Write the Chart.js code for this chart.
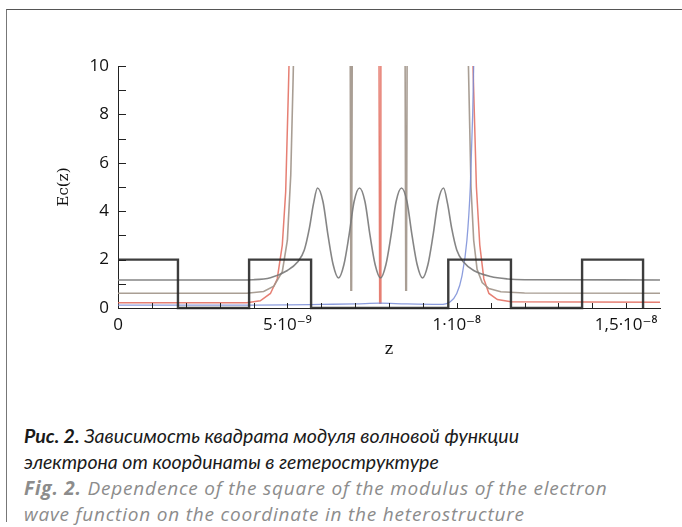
<!DOCTYPE html>
<html>
<head>
<meta charset="utf-8">
<script src="https://cdn.jsdelivr.net/npm/chart.js@4.4.1/dist/chart.umd.min.js"></script>
<style>
  html, body { margin: 0; padding: 0; background: #fff; }
  body { width: 682px; height: 527px; position: relative; overflow: hidden; }
  #frame { position: absolute; left: 6px; top: 9px; right: -2px; height: 512px;
           border-top: 1.5px solid #555; border-left: 1.5px solid #777; }
  #wrap { position: absolute; left: 0; top: 0; width: 682px; height: 370px; }
  #caption { position: absolute; left: 24px; top: 423px; width: 655px;
             font-style: italic; line-height: 26px; white-space: nowrap; }
  #caption .ru { color: #1a1a1a; font-family: Lato, "Open Sans", sans-serif; font-size: 19.5px; }
  #caption .en { color: #8c8c8c; font-family: "Open Sans", Lato, sans-serif; font-size: 19px; letter-spacing: 0.8px; }
  #caption b { font-weight: 700; }
</style>
</head>
<body>
<div id="frame"></div>
<div id="wrap"><canvas id="chart"></canvas></div>
<div id="caption">
  <div class="ru"><b>Рис. 2.</b> Зависимость квадрата модуля волновой функции<br>электрона от координаты в гетероструктуре</div>
  <div class="en"><b>Fig. 2.</b> Dependence of the square of the modulus of the electron<br>wave function on the coordinate in the heterostructure</div>
</div>
<script>
// z in nanometres (1e-9 m); tick labels show the metre values
const xTickLabels = { 0: '0', 5: '5·10⁻⁹', 10: '1·10⁻⁸', 15: '1,5·10⁻⁸' };
const xMinorTicks = [1, 2, 3, 4, 5, 6, 7, 8, 9, 10, 11, 12, 13, 14, 15];
const yTickLabels = { 0: '0', 2: '2', 4: '4', 6: '6', 8: '8', 10: '10' };
const yMinorTicks = [1, 2, 3, 4, 5, 6, 7, 8, 9, 10];

// conduction band profile Ec(z)
const potZ = [0, 1.77, 1.77, 3.87, 3.87, 5.70, 5.70, 9.75, 9.75, 11.60, 11.60, 13.70, 13.70, 15.50, 15.50];
const potV = [2, 2, 0, 0, 2, 2, 0, 0, 2, 2, 0, 0, 2, 2, 0];

// dark grey: oscillating level (E ~ 1.16)
const greyZ = [0, 3.5, 4.0, 4.5, 5.0, 5.3, 5.5, 5.65, 5.77, 5.89, 6.05, 6.2, 6.35, 6.51, 6.67, 6.82, 6.97, 7.13,
               7.29, 7.44, 7.59, 7.75, 7.91, 8.06, 8.21, 8.37, 8.53, 8.68, 8.83, 8.99, 9.15, 9.30, 9.45, 9.61,
               9.73, 9.85, 10.0, 10.2, 10.5, 11.0, 11.5, 12.0, 16.0];
const greyV = [1.16, 1.16, 1.17, 1.25, 1.55, 1.9, 2.4, 3.3, 4.3, 4.96, 4.4, 3.0, 1.8, 1.24, 1.8, 3.0, 4.4, 4.96,
               4.4, 3.0, 1.8, 1.24, 1.8, 3.0, 4.4, 4.96, 4.4, 3.0, 1.8, 1.24, 1.8, 3.0, 4.4, 4.96,
               4.3, 3.3, 2.4, 1.9, 1.55, 1.3, 1.2, 1.17, 1.16];

// tan: level E ~ 0.61 with narrow spikes
const tanZ = [0, 3.8, 4.3, 4.6, 4.85, 5.0, 5.1, 5.17, 5.22, 6.85, 6.875, 6.895, 6.92, 8.47, 8.495, 8.515, 8.54,
              10.3, 10.36, 10.42, 10.5, 10.6, 10.75, 10.95, 11.3, 12.0, 16.0];
const tanV = [0.61, 0.61, 0.68, 0.9, 1.5, 2.8, 5.5, 9.5, 13, 13, 0.74, 0.74, 13, 13, 0.74, 0.74, 13,
              13, 9, 5, 2.8, 1.6, 1.05, 0.8, 0.67, 0.62, 0.61];

// red: level E ~ 0.22
const redZ = [0, 3.8, 4.2, 4.5, 4.7, 4.85, 4.95, 5.03, 5.1, 7.70, 7.725, 7.735, 7.76,
              10.42, 10.5, 10.58, 10.68, 10.8, 10.95, 11.2, 11.6, 16.0];
const redV = [0.22, 0.22, 0.3, 0.6, 1.2, 2.6, 4.8, 9, 13, 13, 0.2, 0.2, 13,
              13, 9, 5, 2.6, 1.2, 0.6, 0.35, 0.26, 0.24];

// blue: level E ~ 0.12
const blueZ = [0, 2, 4, 5, 6, 7, 7.73, 8.5, 9.5, 9.8, 10.0, 10.15, 10.3, 10.4, 10.47, 10.52, 11.0];
const blueV = [0.12, 0.12, 0.12, 0.13, 0.15, 0.17, 0.2, 0.17, 0.15, 0.25, 0.6, 1.3, 2.8, 5, 8, 11, 14];

const pts = (zs, vs) => zs.map((z, i) => ({ x: z, y: vs[i] }));

const innerTicks = {
  id: 'innerTicks',
  afterDatasetsDraw(chart) {
    const { ctx, scales: { x, y } } = chart;
    ctx.save();
    ctx.strokeStyle = '#222';
    ctx.lineWidth = 1;
    ctx.beginPath();
    xMinorTicks.forEach(v => {
      const px = Math.round(x.getPixelForValue(v)) + 0.5;
      ctx.moveTo(px, y.bottom);
      ctx.lineTo(px, y.bottom - 5);
    });
    yMinorTicks.forEach(v => {
      const py = Math.round(y.getPixelForValue(v)) + 0.5;
      ctx.moveTo(x.left, py);
      ctx.lineTo(x.left + 8, py);
    });
    ctx.stroke();
    ctx.restore();
  }
};

const line = (data, color, width, extra) => Object.assign({
  data: data, borderColor: color, borderWidth: width, showLine: true,
  pointRadius: 0, fill: false, tension: 0
}, extra || {});

new Chart(document.getElementById('chart'), {
  type: 'scatter',
  data: {
    datasets: [
      line(pts(potZ, potV), 'rgba(40,40,40,0.9)', 2.4, { clip: 6 }),
      line(pts(greyZ, greyV), 'rgba(120,120,120,0.9)', 1.6, { cubicInterpolationMode: 'monotone' }),
      line(pts(blueZ, blueV), 'rgba(120,140,215,0.85)', 1.3, { cubicInterpolationMode: 'monotone' }),
      line(pts(tanZ, tanV), 'rgba(160,148,136,0.9)', 1.6),
      line(pts(redZ, redV), 'rgba(226,105,90,0.85)', 1.5)
    ]
  },
  options: {
    responsive: true,
    maintainAspectRatio: false,
    animation: false,
    layout: { padding: { top: 66, right: 22, left: 0, bottom: 0 } },
    plugins: { legend: { display: false }, tooltip: { enabled: false } },
    scales: {
      x: {
        type: 'linear', min: 0, max: 16,
        grid: { display: false, drawTicks: false },
        border: { display: true, color: '#222', width: 1 },
        ticks: {
          stepSize: 1, autoSkip: false, maxRotation: 0, padding: 7,
          color: '#111', font: { family: "'Open Sans', 'DejaVu Sans'", size: 17 },
          callback: v => xTickLabels[v] !== undefined ? xTickLabels[v] : ''
        },
        title: {
          display: true, text: 'z', color: '#111',
          font: { family: 'DejaVu Serif', size: 16 }, padding: { top: 0, bottom: 11 }
        },
        afterFit: s => { s.height = 62; }
      },
      y: {
        type: 'linear', min: 0, max: 10,
        grid: { display: false, drawTicks: false },
        border: { display: true, color: '#222', width: 1 },
        ticks: {
          stepSize: 1, autoSkip: false, padding: 9,
          color: '#111', font: { family: 'Open Sans', size: 17 },
          callback: v => yTickLabels[v] !== undefined ? yTickLabels[v] : ''
        },
        title: {
          display: true, text: 'Ec(z)', color: '#111',
          font: { family: 'DejaVu Serif', size: 15 }, padding: { top: 55, bottom: 0 }
        },
        afterFit: s => { s.width = 118; }
      }
    }
  },
  plugins: [innerTicks]
});
</script>
</body>
</html>
